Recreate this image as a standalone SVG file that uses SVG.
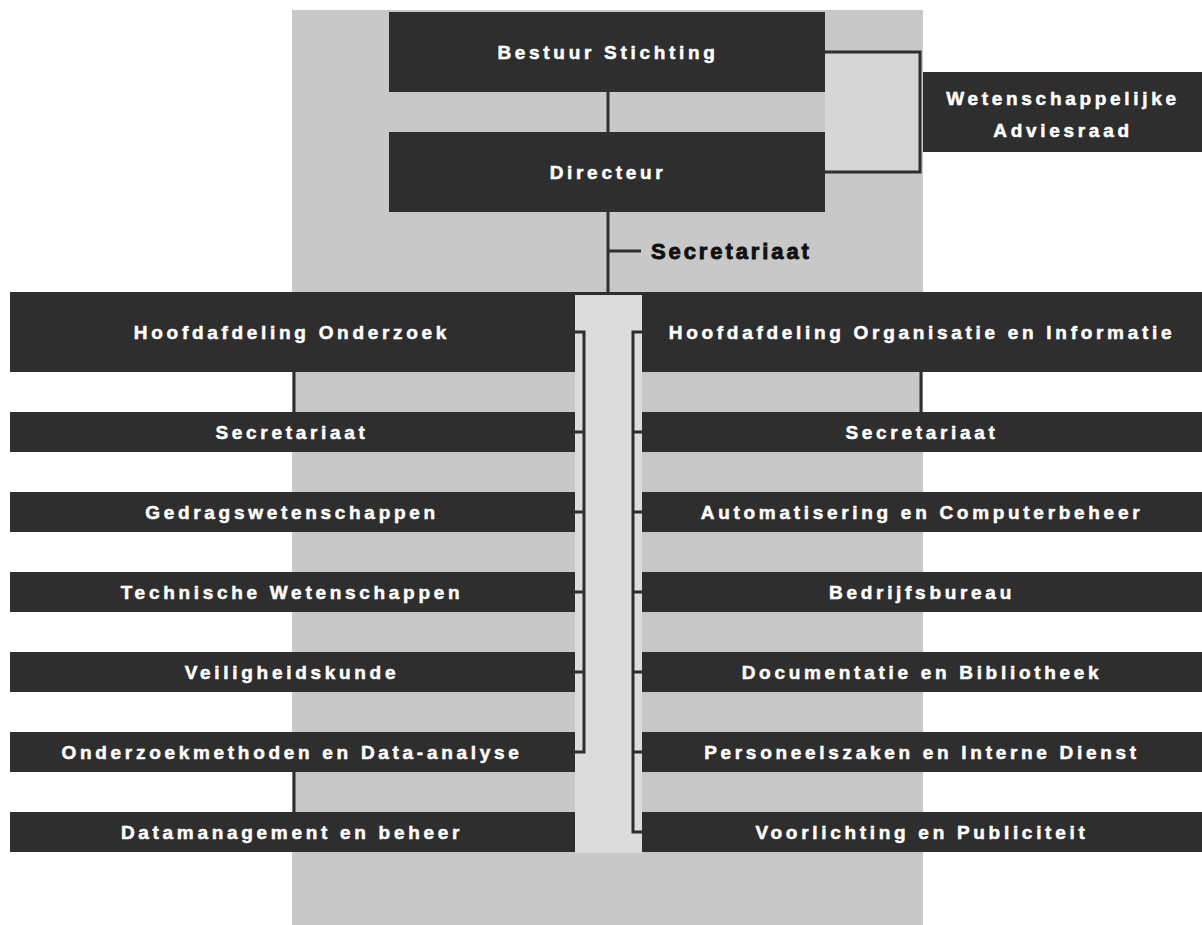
<svg xmlns="http://www.w3.org/2000/svg" width="1202" height="925" viewBox="0 0 1202 925">
<style>
.box{fill:#2e2e2e}
.t{font-family:"Liberation Sans",Arial,sans-serif;font-weight:bold;font-size:19px;fill:#ffffff;stroke:#ffffff;stroke-width:0.5;text-anchor:middle;letter-spacing:3.7px}
.c{fill:none;stroke:#2e2e2e;stroke-width:3}
.lbl{font-family:"Liberation Sans",Arial,sans-serif;font-weight:bold;font-size:22px;fill:#111;stroke:#111;stroke-width:0.9;letter-spacing:2.9px}
</style>
<rect x="0" y="0" width="1202" height="925" fill="#ffffff"/>
<rect id="panel" x="292" y="10" width="631" height="915" fill="#c8c8c8"/>
<rect x="575" y="293" width="67" height="560" fill="#dcdcdc"/>
<rect x="825" y="52" width="95" height="120" fill="#d6d6d6"/>
<g id="connectors">
<path class="c" d="M608,92 V132"/>
<path class="c" d="M825,52 H920 V172 H825"/>
<path class="c" d="M608,212 V293"/>
<path class="c" d="M608,251 H641"/>
<path class="c" d="M575,293.5 H642"/>
<path class="c" d="M575,332 H584 V752 H575 M584,432 H575 M584,512 H575 M584,592 H575 M584,672 H575"/>
<path class="c" d="M642,332 H633 V832 H642 M633,432 H642 M633,512 H642 M633,592 H642 M633,672 H642 M633,752 H642"/>
<path class="c" d="M294,372 V412 M921,372 V412 M294,772 V812"/>
</g>
<g id="n-bestuur"><rect class="box" x="389" y="12" width="436" height="80"/><text class="t" x="608" y="59">Bestuur Stichting</text></g>
<g id="n-directeur"><rect class="box" x="389" y="132" width="436" height="80"/><text class="t" x="608" y="179">Directeur</text></g>
<g id="n-wad"><rect class="box" x="923" y="72" width="279" height="80"/><text class="t" x="1063" y="105">Wetenschappelijke</text><text class="t" x="1063" y="137">Adviesraad</text></g>
<g id="n-secr-top"><text class="lbl" x="651" y="259">Secretariaat</text></g>
<g id="n-ho"><rect class="box" x="10" y="292" width="565" height="80"/><text class="t" x="292" y="339">Hoofdafdeling Onderzoek</text></g>
<g id="n-ho-secr"><rect class="box" x="10" y="412" width="565" height="40"/><text class="t" x="292" y="439">Secretariaat</text></g>
<g id="n-gedrag"><rect class="box" x="10" y="492" width="565" height="40"/><text class="t" x="292" y="519">Gedragswetenschappen</text></g>
<g id="n-tech"><rect class="box" x="10" y="572" width="565" height="40"/><text class="t" x="292" y="599">Technische Wetenschappen</text></g>
<g id="n-veil"><rect class="box" x="10" y="652" width="565" height="40"/><text class="t" x="292" y="679">Veiligheidskunde</text></g>
<g id="n-omda"><rect class="box" x="10" y="732" width="565" height="40"/><text class="t" x="292" y="759">Onderzoekmethoden en Data-analyse</text></g>
<g id="n-dm"><rect class="box" x="10" y="812" width="565" height="40"/><text class="t" x="292" y="839">Datamanagement en beheer</text></g>
<g id="n-hoi"><rect class="box" x="642" y="292" width="560" height="80"/><text class="t" x="922" y="339">Hoofdafdeling Organisatie en Informatie</text></g>
<g id="n-hoi-secr"><rect class="box" x="642" y="412" width="560" height="40"/><text class="t" x="922" y="439">Secretariaat</text></g>
<g id="n-auto"><rect class="box" x="642" y="492" width="560" height="40"/><text class="t" x="922" y="519">Automatisering en Computerbeheer</text></g>
<g id="n-bedr"><rect class="box" x="642" y="572" width="560" height="40"/><text class="t" x="922" y="599">Bedrijfsbureau</text></g>
<g id="n-doc"><rect class="box" x="642" y="652" width="560" height="40"/><text class="t" x="922" y="679">Documentatie en Bibliotheek</text></g>
<g id="n-pers"><rect class="box" x="642" y="732" width="560" height="40"/><text class="t" x="922" y="759">Personeelszaken en Interne Dienst</text></g>
<g id="n-voor"><rect class="box" x="642" y="812" width="560" height="40"/><text class="t" x="922" y="839">Voorlichting en Publiciteit</text></g>
</svg>
